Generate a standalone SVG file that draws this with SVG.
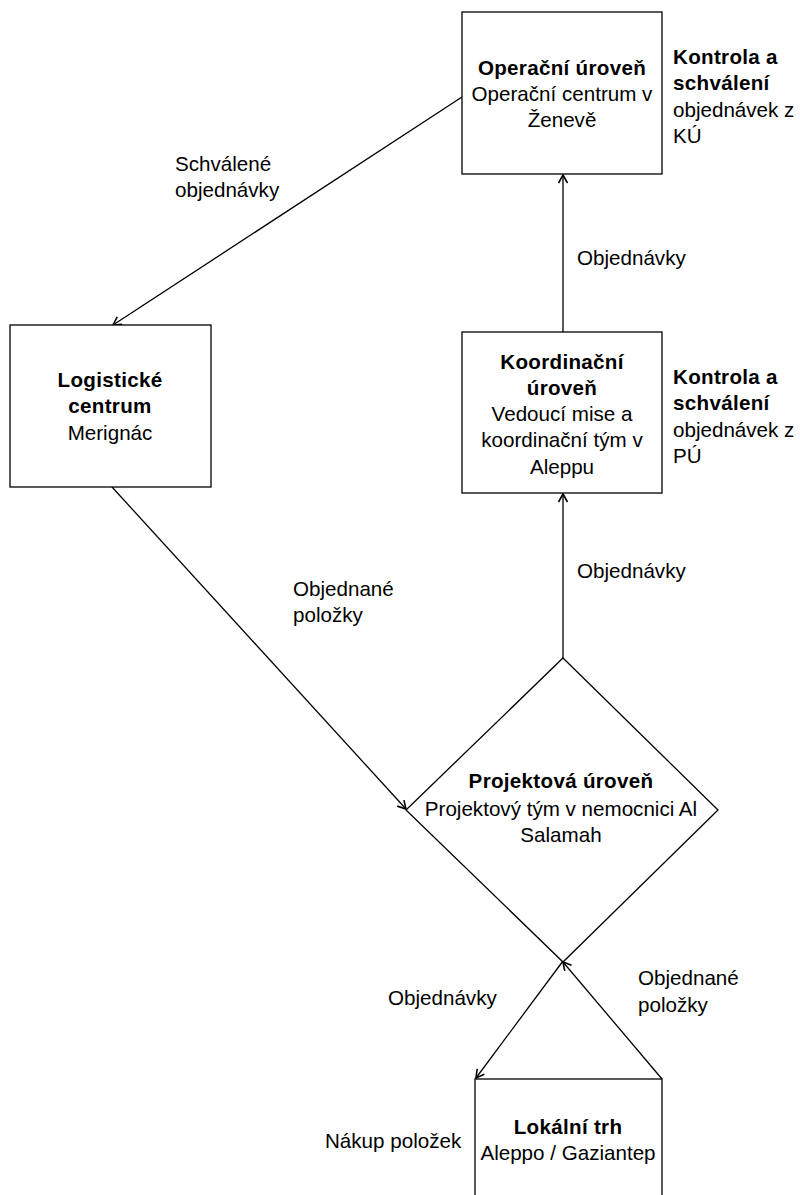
<svg xmlns="http://www.w3.org/2000/svg" width="800" height="1195" viewBox="0 0 800 1195">
<style>
text{font-family:"Liberation Sans",Arial,sans-serif;font-size:20.6px;fill:#000}
.b{font-weight:bold;letter-spacing:0.3px}
.c{text-anchor:middle}
.box{fill:#fff;stroke:#000;stroke-width:1.3}
.ln{fill:none;stroke:#000;stroke-width:1.3;marker-end:url(#ah)}
</style>
<defs>
<marker id="ah" markerUnits="userSpaceOnUse" markerWidth="12" markerHeight="12" refX="9" refY="5" orient="auto">
<path d="M1,0.5 L9,5 L1,9.5" fill="none" stroke="#000" stroke-width="1.6"/>
</marker>
</defs>
<rect width="800" height="1195" fill="#fff"/>
<g id="connectors">
<line class="ln" x1="563" y1="332" x2="563" y2="175"/>
<line class="ln" x1="563" y1="658" x2="563" y2="494"/>
<line class="ln" x1="462" y1="97" x2="113" y2="325"/>
<line class="ln" x1="112" y1="487" x2="406" y2="809"/>
<line class="ln" x1="563" y1="961" x2="476" y2="1078"/>
<line class="ln" x1="662" y1="1079" x2="563" y2="962"/>
<text x="577" y="265">Objednávky</text>
<text x="577" y="578">Objednávky</text>
<text x="175" y="171">Schválené</text>
<text x="175" y="197">objednávky</text>
<text x="293" y="596">Objednané</text>
<text x="293" y="622">položky</text>
<text x="388" y="1005">Objednávky</text>
<text x="638" y="985">Objednané</text>
<text x="638" y="1012">položky</text>
</g>
<g id="operacni">
<rect class="box" x="462" y="12" width="200" height="162"/>
<text class="b c" x="562" y="75">Operační úroveň</text>
<text class="c" x="562" y="101">Operační centrum v</text>
<text class="c" x="562" y="127">Ženevě</text>
</g>
<g id="operacni-note">
<text class="b" x="673" y="64">Kontrola a</text>
<text class="b" x="673" y="90">schválení</text>
<text x="673" y="117">objednávek z</text>
<text x="673" y="143">KÚ</text>
</g>
<g id="logisticke">
<rect class="box" x="10" y="325" width="201" height="162"/>
<text class="b c" x="110" y="387">Logistické</text>
<text class="b c" x="110" y="413">centrum</text>
<text class="c" x="110" y="440">Merignác</text>
</g>
<g id="koordinacni">
<rect class="box" x="462" y="332" width="200" height="161"/>
<text class="b c" x="562" y="369">Koordinační</text>
<text class="b c" x="562" y="395">úroveň</text>
<text class="c" x="562" y="421">Vedoucí mise a</text>
<text class="c" x="562" y="447">koordinační tým v</text>
<text class="c" x="562" y="474">Aleppu</text>
</g>
<g id="koordinacni-note">
<text class="b" x="673" y="384">Kontrola a</text>
<text class="b" x="673" y="410">schválení</text>
<text x="673" y="437">objednávek z</text>
<text x="673" y="463">PÚ</text>
</g>
<g id="projektova">
<polygon class="box" points="563,658 718,810 563,962 406,810"/>
<text class="b c" x="561" y="788">Projektová úroveň</text>
<text class="c" x="561" y="816">Projektový tým v nemocnici Al</text>
<text class="c" x="561" y="842">Salamah</text>
</g>
<g id="lokalni">
<rect class="box" x="475" y="1079" width="187" height="140"/>
<text class="b c" x="568" y="1134">Lokální trh</text>
<text class="c" x="568" y="1160">Aleppo / Gaziantep</text>
</g>
<g id="nakup">
<text x="325" y="1148">Nákup položek</text>
</g>
</svg>
